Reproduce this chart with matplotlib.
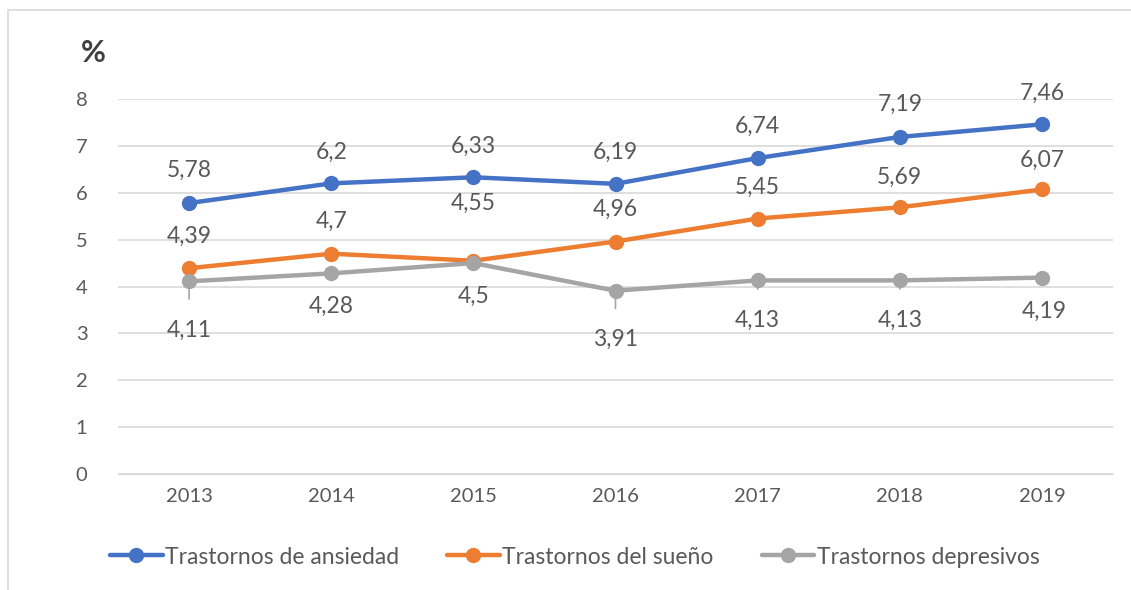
import matplotlib.pyplot as plt
from matplotlib.patches import Rectangle

years = ["2013", "2014", "2015", "2016", "2017", "2018", "2019"]
ansiedad = [5.78, 6.2, 6.33, 6.19, 6.74, 7.19, 7.46]
sueno = [4.39, 4.7, 4.55, 4.96, 5.45, 5.69, 6.07]
depresivos = [4.11, 4.28, 4.5, 3.91, 4.13, 4.13, 4.19]
y_ticks = [0, 1, 2, 3, 4, 5, 6, 7, 8]

# label offsets in pixels (dx, dy)
off_ansiedad = [(0, 33), (0, 31), (0, 31), (0, 32), (0, 32), (0, 33), (0, 31)]
off_sueno = [(0, 32), (0, 32), (0, 57), (0, 32), (0, 31), (0, 30), (0, 29)]
off_depresivos = [(0, -49), (0, -33), (0, -33), (0, -49), (0, -40), (0, -40), (2, -34)]

BLUE, ORANGE, GRAY = "#4472C4", "#ED7D31", "#A5A5A5"
TXT = "#595959"
plt.rcParams["font.family"] = ["Lato", "DejaVu Sans"]

fig = plt.figure(figsize=(11.31, 5.9), dpi=100)
ax = fig.add_axes([118 / 1131, 1 - 474 / 590, 995 / 1131, 375 / 590])
fig.patches.append(Rectangle((8 / 1131, -0.1), 1.2, 1.1 - 10 / 590, transform=fig.transFigure,
                             fill=False, edgecolor="#D9D9D9", linewidth=1.2))

x = [i + 0.5 for i in range(len(years))]
series = [
    ("Trastornos de ansiedad", ansiedad, BLUE, off_ansiedad),
    ("Trastornos del sueño", sueno, ORANGE, off_sueno),
    ("Trastornos depresivos", depresivos, GRAY, off_depresivos),
]
for name, vals, color, offs in series:
    ax.plot(x, vals, color=color, linewidth=3.2, marker="o", markersize=10,
            solid_capstyle="round", label=name, zorder=3)

for name, vals, color, offs in series:
    for xi, v, (dx, dy) in zip(x, vals, offs):
        lbl = f"{v:g}".replace(".", ",")
        if color == GRAY:
            ax.annotate(lbl, (xi, v), xytext=(dx, dy), textcoords="offset pixels",
                        ha="center", va="center", fontsize=16.5, color=TXT,
                        arrowprops=dict(arrowstyle="-", color=GRAY, lw=1.2,
                                        shrinkA=13, shrinkB=0), zorder=4)
        else:
            ax.annotate(lbl, (xi, v), xytext=(dx, dy), textcoords="offset pixels",
                        ha="center", va="center", fontsize=16.5, color=TXT, zorder=4)

ax.set_xlim(0, len(years))
ax.set_ylim(0, 8)
ax.set_yticks(y_ticks)
ax.set_xticks(x)
ax.set_xticklabels(years)
ax.tick_params(axis="both", length=0, labelsize=14.5, labelcolor=TXT)
ax.tick_params(axis="y", pad=22)
ax.tick_params(axis="x", pad=10)
ax.grid(axis="y", color="#D9D9D9", linewidth=1.2, zorder=0)
for s in ax.spines.values():
    s.set_visible(False)
ax.spines["bottom"].set_visible(True)
ax.spines["bottom"].set_color("#D9D9D9")

fig.text(93 / 1131, 1 - 53 / 590, "%", fontsize=22, fontweight="bold", color="#404040",
         ha="center", va="center")

fig.legend(loc="center", bbox_to_anchor=(0.508, 1 - 557 / 590), ncol=3, frameon=False,
           fontsize=16.5, labelcolor=TXT, handlelength=2.3, handletextpad=0.1,
           columnspacing=2.1)

fig.savefig("out.png", dpi=100)
